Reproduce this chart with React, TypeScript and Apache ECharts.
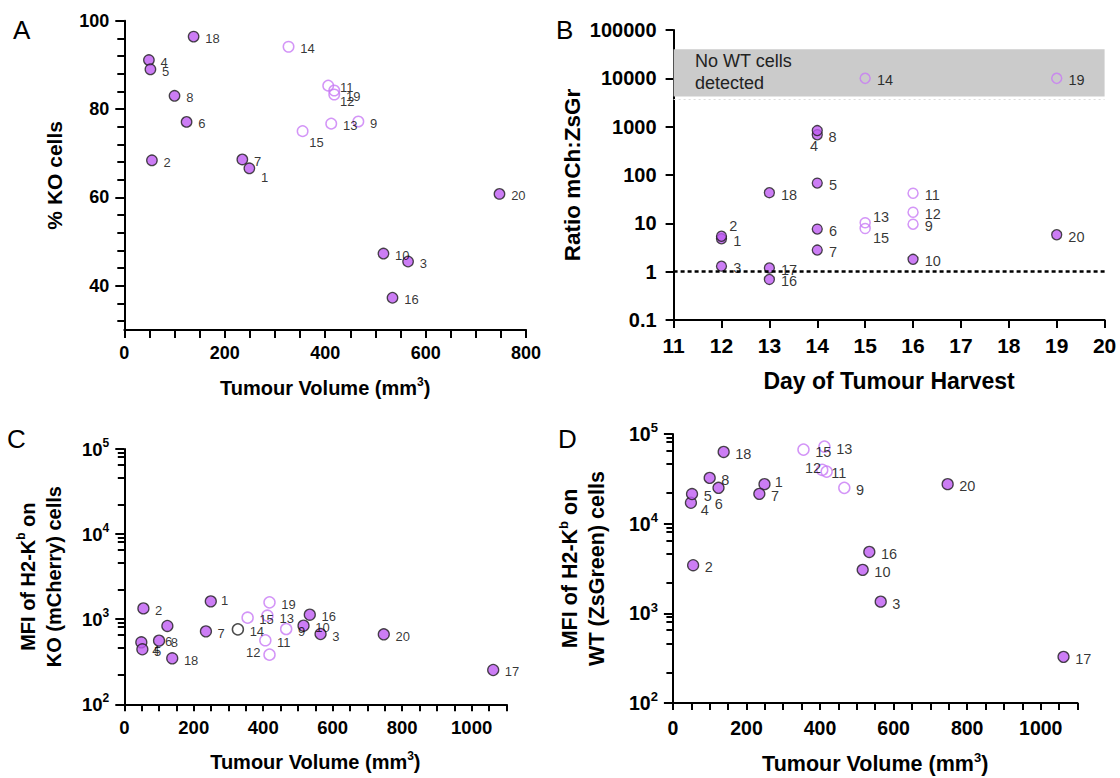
import React, { useEffect, useRef } from "react";
import * as echarts from "echarts";

const FONT = '"Liberation Sans", Arial, Helvetica, sans-serif';

// ---------------- data ----------------
const sampleIds = [1, 2, 3, 4, 5, 6, 7, 8, 9, 10, 11, 12, 13, 14, 15, 16, 17, 18, 19, 20];
const tumourVolume = [249, 55, 565, 49, 52, 124, 235, 100, 466, 516, 406, 418, 412, 327, 355, 534, 1062, 138, 418, 747];
const percentKO = [66.6, 68.4, 45.5, 91.1, 89.0, 77.1, 68.6, 83.0, 77.2, 47.3, 85.3, 83.3, 76.7, 94.1, 75.0, 37.3, null, 96.4, 84.2, 60.8];
const harvestDay = [12, 12, 12, 14, 14, 14, 14, 14, 16, 16, 16, 16, 15, 15, 15, 13, 13, 13, 19, 19];
const ratioMchZsgr = [4.8, 5.4, 1.3, 680, 68, 7.6, 2.8, 830, 9.6, 1.8, 42, 17, 10.3, 10000, 7.8, 0.69, 1.19, 43, 10000, 5.8];
const mfiKO = [1620, 1340, 670, 535, 443, 833, 720, 560, 767, 839, 565, 383, 1100, 760, 1042, 1130, 253, 347, 1578, 664];
const mfiWT = [27600, 3440, 1350, 17100, 21400, 25100, 21500, 32400, 25100, 3055, 39800, 38100, 72300, null, 67000, 4840, 327, 63100, null, 27600];
const openSamples = [9, 11, 12, 13, 14, 15, 19];

// tick labels
const koTickLabels = [40, 60, 80, 100];
const koMinorTicks = [32, 36, 44, 48, 52, 56, 64, 68, 72, 76, 84, 88, 92, 96];
const volumeLabelsA = [0, 200, 400, 600, 800];
const volumeLabelsCD = [0, 200, 400, 600, 800, 1000];
const dayLabels = [11, 12, 13, 14, 15, 16, 17, 18, 19, 20];
const mfiDecades = [100, 1000, 10000, 100000];
const logMinorSteps = [2.2, 4.6, 6.5, 8.1, 9.1];
const noWtBand = [4200, 40000];
const ratioRefLine = 1;

const stepTicks = (from: number, to: number, step: number) => {
  const t: number[] = [];
  for (let v = from; v <= to + 1e-9; v += step) t.push(v);
  return t;
};
const logMinor = (decades: number[]) => {
  const t: number[] = [];
  decades.slice(0, -1).forEach((d) => logMinorSteps.forEach((m) => t.push(d * m)));
  return t;
};

// ---------------- styles ----------------
const PURPLE = "#BF5CF2";
const OPEN_PURPLE = "#C87BF5";
const EDGE = "#1e1e1e";

// label offsets: [left edge dx, centre dy] relative to point centre
const labelOffsetA: Record<number, number[]> = { 1: [11, 9], 12: [5, 7], 15: [6, 11], 19: [11, 6] };
const labelOffsetB: Record<number, number[]> = { 2: [7, -10.7], 4: [-8, 11], 8: [10.7, 6], 13: [7, -5.3], 15: [7, 9.7] };
const labelOffsetC: Record<number, number[]> = { 1: [9.6, -1.3], 6: [-3, 15.7], 4: [10.4, 7.7], 12: [-24.3, -2], 13: [11.4, 2.7] };
const labelOffsetD: Record<number, number[]> = { 1: [9.6, -2], 4: [9.3, 7], 6: [-4.3, 16.3], 11: [8.2, 3.3], 12: [-22.5, -3.3] };

function buildPoints(
  xs: (number | null)[],
  ys: (number | null)[],
  offsets: Record<number, number[]>,
  size: number,
  blackOpen: number[] = []
) {
  const out: any[] = [];
  sampleIds.forEach((id, i) => {
    const x = xs[i];
    const y = ys[i];
    if (x == null || y == null) return;
    const open = openSamples.includes(id);
    const black = blackOpen.includes(id);
    const off = offsets[id] || [11, 2];
    out.push({
      name: String(id),
      value: [x, y],
      itemStyle: open
        ? { color: "rgba(255,255,255,0)", borderColor: black ? EDGE : OPEN_PURPLE, borderWidth: 1.5 }
        : { color: PURPLE, borderColor: EDGE, borderWidth: 1.3 },
      label: { offset: [off[0] - size / 2, off[1]] },
    });
  });
  return out;
}

const axisLine = { show: true, onZero: false, lineStyle: { color: "#000", width: 2 } };
const tick = (len: number, values?: number[]) => ({
  show: true,
  inside: false,
  length: len,
  ...(values ? { customValues: values } : {}),
  lineStyle: { color: "#000", width: 2 },
});
const labelStyle = (size: number, margin: number) => ({
  show: true,
  color: "#000",
  fontFamily: FONT,
  fontWeight: "bold" as const,
  fontSize: size,
  margin,
  formatter: (v: number) => String(v),
});
const nameStyle = (size: number, lineHeight: number) => ({
  color: "#000",
  fontFamily: FONT,
  fontWeight: "bold" as const,
  fontSize: size,
  lineHeight,
  rich: {
    sup: {
      fontFamily: FONT,
      fontWeight: "bold" as const,
      fontSize: Math.round(size * 0.62),
      lineHeight: Math.round(size * 0.62),
      verticalAlign: "top" as const,
      color: "#000",
    },
  },
});
const powerLabel = (size: number, margin: number) => ({
  ...labelStyle(size, margin),
  lineHeight: size + 6,
  formatter: (v: number) => "10{sup|" + Math.round(Math.log10(v)) + "}",
  rich: {
    sup: {
      fontFamily: FONT,
      fontWeight: "bold" as const,
      fontSize: Math.round(size * 0.66),
      lineHeight: Math.round(size * 0.66),
      verticalAlign: "top" as const,
      color: "#000",
    },
  },
});
const pointLabel = (size: number) => ({
  show: true,
  position: "right" as const,
  distance: 0,
  formatter: "{b}",
  color: "#000",
  fontFamily: FONT,
  fontSize: size,
});
// an extra axis used only to draw shorter minor ticks
const minorAxis = (gridIndex: number, base: any, values: number[], len: number) => ({
  ...base,
  gridIndex,
  position: "left",
  offset: 0,
  axisLine: { show: false },
  axisLabel: { show: false },
  axisTick: tick(len, values),
  splitLine: { show: false },
  name: "",
});

export default function App() {
  const ref = useRef<HTMLDivElement>(null);

  useEffect(() => {
    if (!ref.current) return;
    const chart = echarts.init(ref.current, undefined, { renderer: "svg" });

    const koScale = { type: "value", min: 30, max: 100 };
    const mfiScale = { type: "log", logBase: 10, min: 100, max: 100000 };

    const option: any = {
      animation: false,
      backgroundColor: "#fff",
      grid: [
        { left: 124.3, top: 20.7, width: 401.8, height: 309.3 },
        { left: 673.6, top: 30, width: 431, height: 290 },
        { left: 124.3, top: 449, width: 382.1, height: 255.3 },
        { left: 672.9, top: 434, width: 404.6, height: 270 },
      ],
      xAxis: [
        {
          gridIndex: 0,
          type: "value",
          min: 0,
          max: 800,
          axisLine,
          axisTick: tick(8, stepTicks(0, 800, 50)),
          splitLine: { show: false },
          axisLabel: { ...labelStyle(18, 14), customValues: volumeLabelsA },
          name: "Tumour Volume (mm{sup|3})",
          nameLocation: "middle",
          nameGap: 46,
          nameTextStyle: nameStyle(20, 24),
        },
        {
          gridIndex: 1,
          type: "value",
          min: 11,
          max: 20,
          axisLine,
          axisTick: tick(8, dayLabels),
          splitLine: { show: false },
          axisLabel: { ...labelStyle(21, 15), customValues: dayLabels },
          name: "Day of Tumour Harvest",
          nameLocation: "middle",
          nameGap: 48,
          nameTextStyle: nameStyle(23, 26),
        },
        {
          gridIndex: 2,
          type: "value",
          min: 0,
          max: 1100,
          axisLine,
          axisTick: tick(7, stepTicks(0, 1100, 50)),
          splitLine: { show: false },
          axisLabel: { ...labelStyle(18.5, 14), customValues: volumeLabelsCD },
          name: "Tumour Volume (mm{sup|3})",
          nameLocation: "middle",
          nameGap: 46,
          nameTextStyle: nameStyle(20, 24),
        },
        {
          gridIndex: 3,
          type: "value",
          min: 0,
          max: 1100,
          axisLine,
          axisTick: tick(7, stepTicks(0, 1100, 50)),
          splitLine: { show: false },
          axisLabel: { ...labelStyle(19.5, 15), customValues: volumeLabelsCD },
          name: "Tumour Volume (mm{sup|3})",
          nameLocation: "middle",
          nameGap: 48,
          nameTextStyle: nameStyle(21.5, 26),
        },
      ],
      yAxis: [
        {
          gridIndex: 0,
          ...koScale,
          axisLine,
          axisTick: tick(9, koTickLabels),
          splitLine: { show: false },
          axisLabel: { ...labelStyle(18, 15), customValues: koTickLabels },
          name: "% KO cells",
          nameLocation: "middle",
          nameRotate: 90,
          nameGap: 58,
          nameTextStyle: nameStyle(21, 24),
        },
        {
          gridIndex: 1,
          type: "log",
          logBase: 10,
          min: 0.1,
          max: 100000,
          axisLine,
          axisTick: tick(8),
          splitLine: { show: false },
          axisLabel: {
            ...labelStyle(20, 17),
            formatter: (v: number) => (v >= 1 ? String(Math.round(v)) : String(Number(v.toPrecision(1)))),
          },
          name: "Ratio mCh:ZsGr",
          nameLocation: "middle",
          nameRotate: 90,
          nameGap: 88,
          nameTextStyle: nameStyle(22.5, 26),
        },
        {
          gridIndex: 2,
          ...mfiScale,
          axisLine,
          axisTick: tick(9, mfiDecades),
          splitLine: { show: false },
          axisLabel: { ...powerLabel(18.5, 15), customValues: mfiDecades },
          name: "MFI of H2-K{sup|b} on\nKO (mCherry) cells",
          nameLocation: "middle",
          nameRotate: 90,
          nameGap: 57,
          nameTextStyle: nameStyle(20, 26),
        },
        {
          gridIndex: 3,
          ...mfiScale,
          axisLine,
          axisTick: tick(9, mfiDecades),
          splitLine: { show: false },
          axisLabel: { ...powerLabel(19.5, 15), customValues: mfiDecades },
          name: "MFI of H2-K{sup|b} on\nWT (ZsGreen) cells",
          nameLocation: "middle",
          nameRotate: 90,
          nameGap: 62,
          nameTextStyle: nameStyle(21.5, 27),
        },
        minorAxis(0, koScale, koMinorTicks, 7),
        minorAxis(2, mfiScale, logMinor(mfiDecades), 6.5),
        minorAxis(3, mfiScale, logMinor(mfiDecades), 6.5),
      ],
      series: [
        {
          type: "scatter",
          xAxisIndex: 0,
          yAxisIndex: 0,
          symbolSize: 10.5,
          z: 3,
          label: pointLabel(13),
          data: buildPoints(tumourVolume, percentKO, labelOffsetA, 10.5),
        },
        {
          type: "scatter",
          xAxisIndex: 1,
          yAxisIndex: 1,
          z: 1,
          data: [],
          markArea: {
            silent: true,
            itemStyle: { color: "#CBCBCB", opacity: 1 },
            label: { show: false },
            data: [[{ xAxis: "min", yAxis: noWtBand[1] }, { xAxis: "max", yAxis: noWtBand[0] }]],
          },
          markLine: {
            silent: true,
            symbol: "none",
            label: { show: false },
            data: [
              { yAxis: ratioRefLine, lineStyle: { color: "#000", width: 2.5, type: [4, 3] } },
              { yAxis: 3700, lineStyle: { color: "#dcdcdc", width: 1, type: [2, 3] } },
            ],
          },
        },
        {
          type: "scatter",
          xAxisIndex: 1,
          yAxisIndex: 1,
          symbolSize: 10,
          z: 3,
          label: pointLabel(14.5),
          data: buildPoints(harvestDay, ratioMchZsgr, labelOffsetB, 10),
        },
        {
          type: "scatter",
          xAxisIndex: 2,
          yAxisIndex: 2,
          symbolSize: 11,
          z: 3,
          label: pointLabel(13),
          data: buildPoints(tumourVolume, mfiKO, labelOffsetC, 11, [14]),
        },
        {
          type: "scatter",
          xAxisIndex: 3,
          yAxisIndex: 3,
          symbolSize: 11,
          z: 3,
          label: pointLabel(14.5),
          data: buildPoints(tumourVolume, mfiWT, labelOffsetD, 11),
        },
      ],
      graphic: [
        { type: "text", left: 13, top: 17, style: { text: "A", font: `26px ${FONT}`, fill: "#000" } },
        { type: "text", left: 556, top: 17, style: { text: "B", font: `26px ${FONT}`, fill: "#000" } },
        { type: "text", left: 7, top: 426, style: { text: "C", font: `26px ${FONT}`, fill: "#000" } },
        { type: "text", left: 558, top: 426, style: { text: "D", font: `26px ${FONT}`, fill: "#000" } },
        {
          type: "text",
          left: 695,
          top: 50,
          z: 10,
          style: { text: "No WT cells\ndetected", font: `18px ${FONT}`, lineHeight: 22, fill: "#222" },
        },
      ],
    };

    chart.setOption(option);
    return () => chart.dispose();
  }, []);

  return (
    <div
      ref={ref}
      style={{ position: "fixed", left: 0, top: 0, width: 1120, height: 778, background: "#fff" }}
    />
  );
}
